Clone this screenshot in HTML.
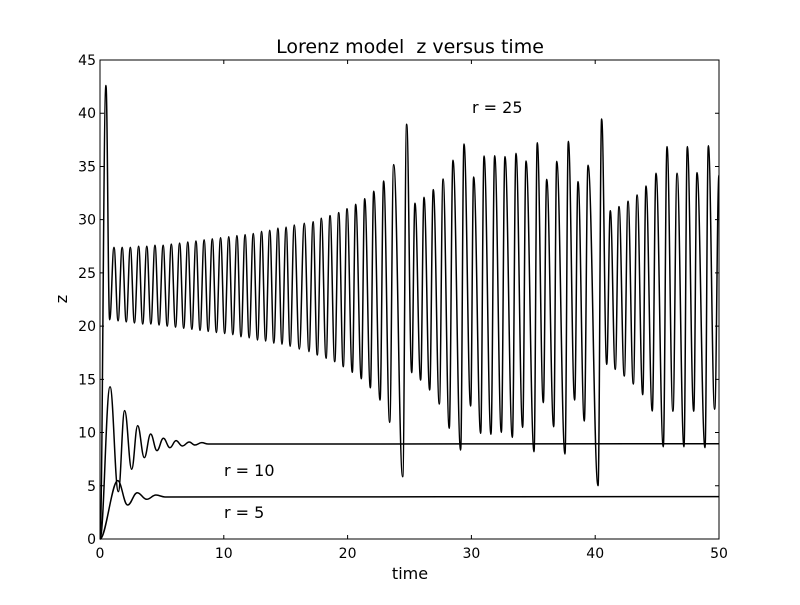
<!DOCTYPE html>
<html><head><meta charset="utf-8"><style>
html,body{margin:0;padding:0;background:#fff;}
svg text{font-family:"DejaVu Sans","Liberation Sans",sans-serif;fill:#000;white-space:pre;}
</style></head><body>
<svg id="chart" width="800" height="600" viewBox="0 0 800 600" xmlns="http://www.w3.org/2000/svg" xml:space="preserve">
<rect x="0" y="0" width="800" height="600" fill="#fff"/>
<text x="410" y="53" font-size="19" text-anchor="middle">Lorenz model  z versus time</text>
<text x="410" y="579" font-size="16" text-anchor="middle">time</text>
<text x="67" y="299" font-size="16" text-anchor="middle" transform="rotate(-90 67 299)">z</text>
<g id="ticks"></g>
<g id="series"></g>
<rect x="100" y="60" width="619" height="479" fill="none" stroke="#000" stroke-width="1"/>
<text x="472" y="113" font-size="16">r = 25</text>
<text x="224" y="476" font-size="16">r = 10</text>
<text x="224" y="518" font-size="16">r = 5</text>
</svg>
<script>
const xTicks=[0,10,20,30,40,50];
const yTicks=[0,5,10,15,20,25,30,35,40,45];
// r = 25 extrema (time, z)
const r25T=[0,0.48,0.78,1.13,1.46,1.79,2.12,2.45,2.78,3.12,3.45,3.78,4.11,4.44,4.77,5.10,5.43,5.76,6.10,6.43,6.76,7.09,7.42,7.75,8.08,8.41,8.74,9.07,9.40,9.74,10.07,10.40,10.73,11.06,11.39,11.72,12.05,12.38,12.72,13.05,13.38,13.71,14.04,14.37,14.70,15.03,15.36,15.69,16.10,16.50,16.88,17.21,17.55,17.88,18.26,18.58,18.96,19.28,19.65,19.95,20.38,20.65,21.11,21.38,21.84,22.11,22.62,22.91,23.40,23.72,24.45,24.77,25.18,25.44,25.90,26.17,26.63,26.92,27.41,27.71,28.21,28.51,29.13,29.40,29.94,30.18,30.75,31.02,31.58,31.88,32.42,32.71,33.31,33.60,34.14,34.41,35.06,35.32,35.81,36.08,36.65,36.89,37.56,37.83,38.34,38.61,39.12,39.42,40.23,40.52,40.93,41.22,41.62,41.92,42.35,42.65,43.08,43.38,43.84,44.10,44.61,44.91,45.50,45.80,46.28,46.61,47.17,47.44,47.96,48.22,48.87,49.14,49.65,50.0];
const r25Z=[0,42.6,20.6,27.4,20.5,27.4,20.4,27.4,20.3,27.5,20.2,27.5,20.2,27.6,20.1,27.6,20.0,27.7,19.9,27.8,19.8,27.9,19.7,28.0,19.6,28.1,19.5,28.2,19.4,28.3,19.3,28.4,19.2,28.5,19.0,28.6,18.9,28.7,18.7,28.9,18.6,29.0,18.4,29.2,18.3,29.3,18.1,29.5,17.85,29.66,17.60,29.81,17.29,30.13,16.98,30.38,16.66,30.66,16.19,31.03,15.66,31.44,15.06,31.97,14.21,32.67,13.06,33.63,10.96,35.17,5.85,38.96,15.63,31.54,14.94,32.10,14.00,32.82,12.68,33.82,10.40,35.58,8.36,37.11,12.50,34.01,9.93,35.98,9.84,36.01,10.02,35.92,9.55,36.23,10.49,35.51,8.20,37.23,12.81,33.79,10.55,35.48,7.99,37.36,13.06,33.57,11.09,35.11,5.01,39.46,16.41,30.84,15.94,31.22,15.31,31.73,14.56,32.32,13.56,33.16,12.03,34.36,8.67,36.86,12.00,34.36,8.67,36.86,12.00,34.42,8.58,36.95,12.19,34.2];
// r = 10 extrema
const r10T=[0,0.81,1.48,1.99,2.56,3.04,3.58,4.09,4.60,5.12,5.65,6.14,6.65,7.21,7.67,8.21,8.75,50];
const r10Z=[0,14.3,4.45,12.06,6.55,10.65,7.64,9.86,8.30,9.46,8.58,9.24,8.74,9.11,8.83,9.05,8.92,8.95];
// r = 5 extrema
const r5T=[0,1.43,2.23,3.01,3.77,4.52,5.25,50];
const r5Z=[0,5.48,3.19,4.35,3.73,4.13,3.95,3.98];

const X0=100,X1=719,Y0=539,Y1=60;
const xs=t=>X0+(t-0)/(50-0)*(X1-X0);
const ys=z=>Y0-(z-0)/(45-0)*(Y0-Y1);
const NS='http://www.w3.org/2000/svg';
const tg=document.getElementById('ticks');
xTicks.forEach(v=>{
  const x=xs(v);
  const a=document.createElementNS(NS,'path');
  a.setAttribute('d',`M${x},${Y0}v-4M${x},${Y1}v4`);
  a.setAttribute('stroke','#000');
  
  
  tg.appendChild(a);
  const t=document.createElementNS(NS,'text');
  t.setAttribute('x',x);t.setAttribute('y',Y0+19);
  t.setAttribute('font-size','14');t.setAttribute('text-anchor','middle');
  t.textContent=v;
  
  
  tg.appendChild(t);
});
yTicks.forEach(v=>{
  const y=ys(v);
  const a=document.createElementNS(NS,'path');
  a.setAttribute('d',`M${X0},${y}h4M${X1},${y}h-4`);
  a.setAttribute('stroke','#000');
  
  
  tg.appendChild(a);
  const t=document.createElementNS(NS,'text');
  t.setAttribute('x',X0-4);t.setAttribute('y',y+5);
  t.setAttribute('font-size','14');t.setAttribute('text-anchor','end');
  t.textContent=v;
  
  
  tg.appendChild(t);
});
function curve(T,Z){
  let d=`M${xs(T[0])},${ys(Z[0])}`;
  for(let i=1;i<T.length;i++){
    const x0=xs(T[i-1]),y0=ys(Z[i-1]),x1=xs(T[i]),y1=ys(Z[i]);
    const k=Math.min((x1-x0)*0.4,6);
    d+=`C${x0+k},${y0} ${x1-k},${y1} ${x1},${y1}`;
  }
  return d;
}
const sg=document.getElementById('series');
[[r25T,r25Z,'line-r25'],[r10T,r10Z,'line-r10'],[r5T,r5Z,'line-r5']].forEach(s=>{
  const p=document.createElementNS(NS,'path');
  p.setAttribute('d',curve(s[0],s[1]));
  p.setAttribute('fill','none');p.setAttribute('stroke','#000');p.setAttribute('stroke-width','1.5');
  p.setAttribute('stroke-linejoin','round');
  
  
  sg.appendChild(p);
});
</script>
</body></html>
